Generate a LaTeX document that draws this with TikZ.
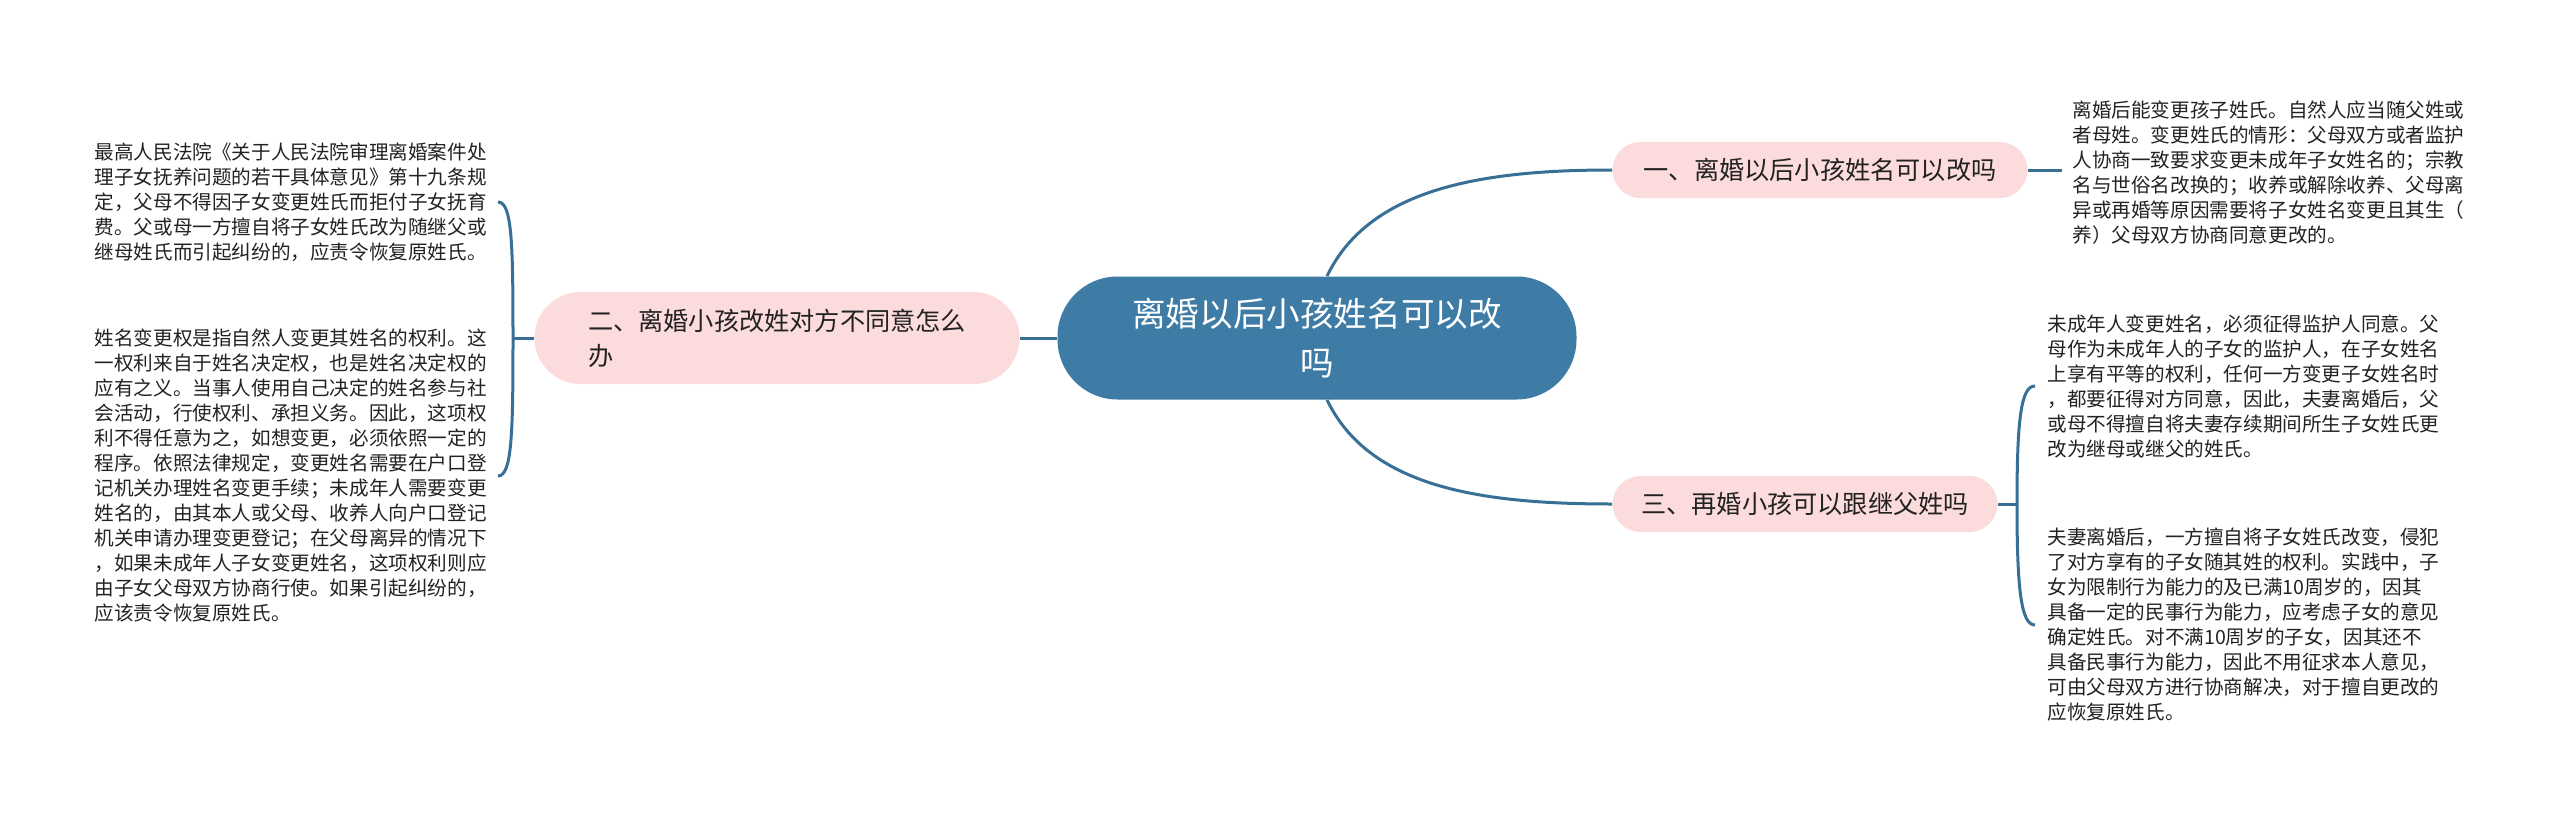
\documentclass[tikz,border=0pt]{standalone}
\usepackage{fontspec}
\newfontfamily\cjk{Noto Sans CJK SC}
\usepackage{xcolor}
\usepackage{tikz}

\definecolor{mapblue}{RGB}{62,124,166}
\definecolor{mappink}{RGB}{251,219,219}
\definecolor{leafink}{RGB}{34,34,34}

\begin{document}
\begin{tikzpicture}[x=0.5pt, y=-0.5pt,
    every node/.style={font=\cjk, text=leafink},
    rootbox/.style={fill=mapblue, rounded corners=30pt, minimum width=259.5pt, minimum height=61.5pt,
        text=white, align=center, font=\cjk\fontsize{16.8}{24.5}\selectfont},
    branchbox/.style={fill=mappink, rounded corners=14pt, minimum height=28pt,
        font=\cjk\fontsize{12.6}{17.5}\selectfont},
    leaftext/.style={align=left, inner xsep=6pt, inner ysep=0pt,
        font=\cjk\fontsize{9.8}{12.5}\selectfont},
    link/.style={draw=mapblue!90!black, line width=1.5pt}]
    \fill[white] (0,0) rectangle (2560,819);

    \node[rootbox] (root) at (1317,338) {离婚以后小孩姓名可以改\\吗};
    \node[branchbox, minimum width=207.5pt] (b1) at (1820,170) {一、离婚以后小孩姓名可以改吗};
    \node[branchbox, minimum width=242.5pt, minimum height=46pt, rounded corners=23pt, align=left] (b2) at (777,338) {二、离婚小孩改姓对方不同意怎么\\办};
    \node[branchbox, minimum width=192.5pt] (b3) at (1805,504) {三、再婚小孩可以跟继父姓吗};

    \node[leaftext, inner xsep=5pt, anchor=west] (r1) at (2062,173) {离婚后能变更孩子姓氏。自然人应当随父姓或\\者母姓。变更姓氏的情形：父母双方或者监护\\人协商一致要求变更未成年子女姓名的；宗教\\名与世俗名改换的；收养或解除收养、父母离\\异或再婚等原因需要将子女姓名变更且其生（\\养）父母双方协商同意更改的。};
    \node[leaftext, anchor=west] (r2) at (2035,386) {未成年人变更姓名，必须征得监护人同意。父\\母作为未成年人的子女的监护人，在子女姓名\\上享有平等的权利，任何一方变更子女姓名时\\，都要征得对方同意，因此，夫妻离婚后，父\\或母不得擅自将夫妻存续期间所生子女姓氏更\\改为继母或继父的姓氏。};
    \node[leaftext, anchor=west] (r3) at (2035,625) {夫妻离婚后，一方擅自将子女姓氏改变，侵犯\\了对方享有的子女随其姓的权利。实践中，子\\女为限制行为能力的及已满10周岁的，因其\\具备一定的民事行为能力，应考虑子女的意见\\确定姓氏。对不满10周岁的子女，因其还不\\具备民事行为能力，因此不用征求本人意见，\\可由父母双方进行协商解决，对于擅自更改的\\应恢复原姓氏。};
    \node[leaftext, inner xsep=5.5pt, anchor=east] (l1) at (498,202) {最高人民法院《关于人民法院审理离婚案件处\\理子女抚养问题的若干具体意见》第十九条规\\定，父母不得因子女变更姓氏而拒付子女抚育\\费。父或母一方擅自将子女姓氏改为随继父或\\继母姓氏而引起纠纷的，应责令恢复原姓氏。};
    \node[leaftext, inner xsep=5.5pt, anchor=east] (l2) at (498,476) {姓名变更权是指自然人变更其姓名的权利。这\\一权利来自于姓名决定权，也是姓名决定权的\\应有之义。当事人使用自己决定的姓名参与社\\会活动，行使权利、承担义务。因此，这项权\\利不得任意为之，如想变更，必须依照一定的\\程序。依照法律规定，变更姓名需要在户口登\\记机关办理姓名变更手续；未成年人需要变更\\姓名的，由其本人或父母、收养人向户口登记\\机关申请办理变更登记；在父母离异的情况下\\，如果未成年人子女变更姓名，这项权利则应\\由子女父母双方协商行使。如果引起纠纷的，\\应该责令恢复原姓氏。};

    \coordinate (j2) at (513,338);
    \coordinate (j3) at (2017,504);

    \draw[link] ([xshift=5pt]root.north) .. controls +(42,-87) and +(-133,0) .. (b1.west);
    \draw[link] ([xshift=5pt]root.south) .. controls +(42,87) and +(-133,0) .. (b3.west);
    \draw[link] (root.west) -- (b2.east);

    \draw[link] (b1.east) -- (b1.east -| r1.west);
    \draw[link] (b3.east) -- (j3);
    \draw[link] (j3) .. controls +(0,-85) and +(-14,0) .. (r2.west);
    \draw[link] (j3) .. controls +(0,85) and +(-14,0) .. (r3.west);
    \draw[link] (b2.west) -- (j2);
    \draw[link] (j2) .. controls +(0,-95) and +(14,0) .. (l1.east);
    \draw[link] (j2) .. controls +(0,95) and +(14,0) .. (l2.east);
\end{tikzpicture}
\end{document}
